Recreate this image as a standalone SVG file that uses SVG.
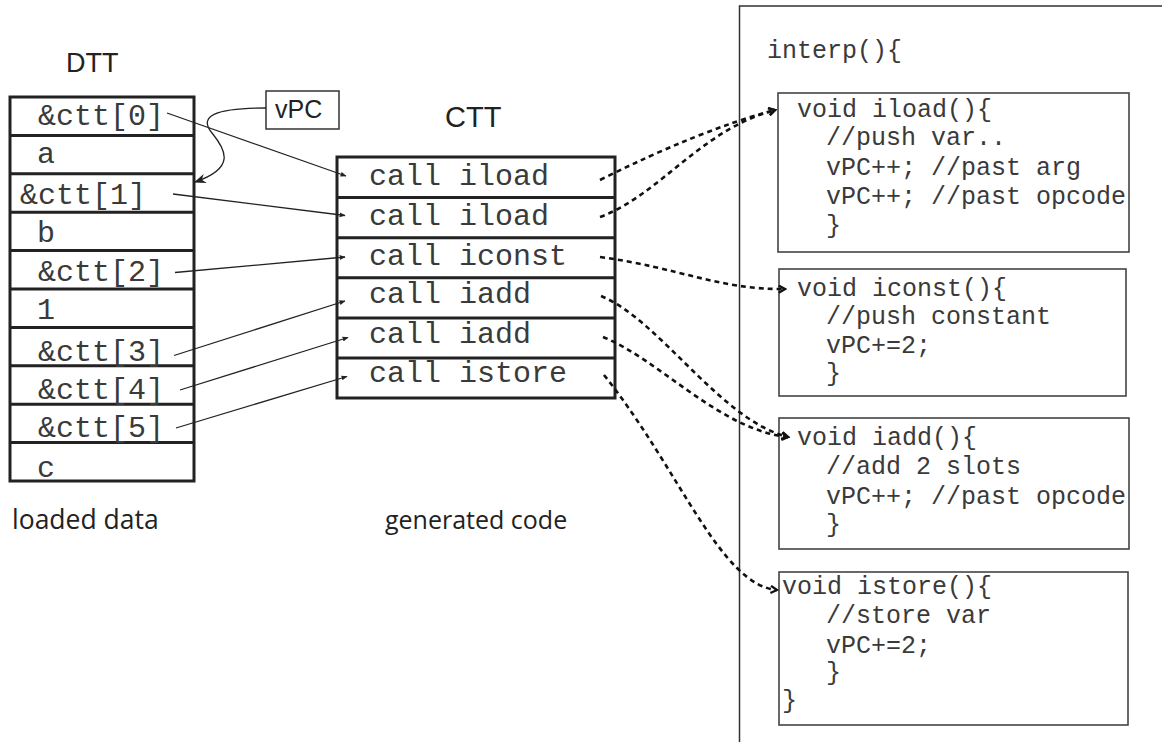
<svg xmlns="http://www.w3.org/2000/svg" width="1162" height="742" viewBox="0 0 1162 742">
<style>
.tbl{fill:none;stroke:#222;stroke-width:3}
.mono30{font-family:"Liberation Mono","Courier New",monospace;font-size:30px;fill:#3a3a3a}
.mono25{font-family:"Liberation Mono","Courier New",monospace;font-size:25px;fill:#3a3a3a}
.sans{font-family:"Liberation Sans",Arial,sans-serif;fill:#222}
.hum{font-family:"Open Sans","Noto Sans",sans-serif;font-size:26.5px;fill:#222}
.box{fill:none;stroke:#444;stroke-width:1.6}
.thin{fill:none;stroke:#222;stroke-width:1.3;marker-end:url(#sm)}
.dot{fill:none;stroke:#111;stroke-width:2.6;stroke-dasharray:5 4;marker-end:url(#chev)}
</style>
<defs>
<marker id="sm" viewBox="0 0 10 10" refX="9" refY="5" markerWidth="6" markerHeight="6" markerUnits="userSpaceOnUse" orient="auto">
<path d="M0,1 L10,5 L0,9 Z" fill="#222"/>
</marker>
<marker id="chev" viewBox="0 0 10 10" refX="8" refY="5" markerWidth="9" markerHeight="9" markerUnits="userSpaceOnUse" orient="auto">
<path d="M1,1 L8,5 L1,9" fill="none" stroke="#111" stroke-width="2.6"/>
</marker>
<marker id="big" viewBox="0 0 10 10" refX="9" refY="5" markerWidth="12" markerHeight="12" markerUnits="userSpaceOnUse" orient="auto">
<path d="M0,1 L10,5 L0,9 L3,5 Z" fill="#222"/>
</marker>
</defs>

<g id="labels">
<text class="sans" x="66" y="72" font-size="27">DTT</text>
<text class="sans" x="445" y="127" font-size="29">CTT</text>
<text class="hum" x="12" y="529">loaded data</text>
<text class="hum" x="385" y="529" style="font-size:25px">generated code</text>
</g>

<g id="dtt">
<rect class="tbl" x="10" y="97" width="184" height="384"/>
<path class="tbl" d="M10,135.4H194M10,173.8H194M10,212.2H194M10,250.6H194M10,289H194M10,327.4H194M10,365.8H194M10,404.2H194M10,442.6H194"/>
<text class="mono30" x="38" y="125">&amp;ctt[0]</text>
<text class="mono30" x="37" y="163">a</text>
<text class="mono30" x="20" y="204">&amp;ctt[1]</text>
<text class="mono30" x="37" y="242">b</text>
<text class="mono30" x="38" y="281">&amp;ctt[2]</text>
<text class="mono30" x="37" y="319">1</text>
<text class="mono30" x="38" y="361">&amp;ctt[3]</text>
<text class="mono30" x="38" y="399">&amp;ctt[4]</text>
<text class="mono30" x="38" y="437">&amp;ctt[5]</text>
<text class="mono30" x="37" y="477">c</text>
</g>

<g id="vpc">
<rect x="266" y="91" width="73" height="38" fill="#fff" stroke="#333" stroke-width="1.5"/>
<text class="sans" x="275" y="118" font-size="25">vPC</text>
</g>

<g id="ctt">
<rect class="tbl" x="337" y="157" width="278" height="241"/>
<path class="tbl" d="M337,197.5H615M337,237.7H615M337,277.8H615M337,318H615M337,358H615"/>
<text class="mono30" x="369" y="185">call iload</text>
<text class="mono30" x="369" y="225">call iload</text>
<text class="mono30" x="369" y="265">call iconst</text>
<text class="mono30" x="369" y="303">call iadd</text>
<text class="mono30" x="369" y="343">call iadd</text>
<text class="mono30" x="369" y="382">call istore</text>
</g>

<g id="interp">
<path d="M1162,6H739.5V742" fill="none" stroke="#333" stroke-width="1.5"/>
<text class="mono25" x="767" y="58">interp(){</text>
</g>

<g id="iload">
<rect class="box" x="778" y="93" width="351" height="159"/>
<text class="mono25" x="797" y="117">void iload(){</text>
<text class="mono25" x="826" y="145">//push var..</text>
<text class="mono25" x="826" y="175">vPC++; //past arg</text>
<text class="mono25" x="826" y="204">vPC++; //past opcode</text>
<text class="mono25" x="826" y="233">}</text>
</g>

<g id="iconst">
<rect class="box" x="779" y="269" width="347" height="127"/>
<text class="mono25" x="797" y="296">void iconst(){</text>
<text class="mono25" x="826" y="324">//push constant</text>
<text class="mono25" x="826" y="353">vPC+=2;</text>
<text class="mono25" x="826" y="381">}</text>
</g>

<g id="iadd">
<rect class="box" x="779" y="418" width="350" height="131"/>
<text class="mono25" x="797" y="445">void iadd(){</text>
<text class="mono25" x="826" y="474">//add 2 slots</text>
<text class="mono25" x="826" y="504">vPC++; //past opcode</text>
<text class="mono25" x="826" y="532">}</text>
</g>

<g id="istore">
<rect class="box" x="779" y="572" width="349" height="153"/>
<text class="mono25" x="782" y="594">void istore(){</text>
<text class="mono25" x="826" y="623">//store var</text>
<text class="mono25" x="826" y="653">vPC+=2;</text>
<text class="mono25" x="826" y="680">}</text>
<text class="mono25" x="782" y="708">}</text>
</g>

<g id="connectors">
<path class="thin" d="M167,113L346,176"/>
<path class="thin" d="M173,194L345,215.5"/>
<path class="thin" d="M175,272.5L345,257"/>
<path class="thin" d="M174,355.5L345,301"/>
<path class="thin" d="M180,390L348,337.5"/>
<path class="thin" d="M176,428L347,376.5"/>
<path d="M266,108C215,108 198,116 212,133C226,150 236,168 195,182" fill="none" stroke="#222" stroke-width="1.3" marker-end="url(#big)"/>
<path class="dot" d="M600,180Q700,130 775,110"/>
<path class="dot" d="M600,217C660,195 700,130 775,110"/>
<path class="dot" d="M600,257C680,268 720,290 785,289"/>
<path class="dot" d="M601,296C660,320 720,420 788,437"/>
<path class="dot" d="M603,337C660,360 720,430 788,437"/>
<path class="dot" d="M604,375C680,470 720,585 777,590"/>
</g>
</svg>
